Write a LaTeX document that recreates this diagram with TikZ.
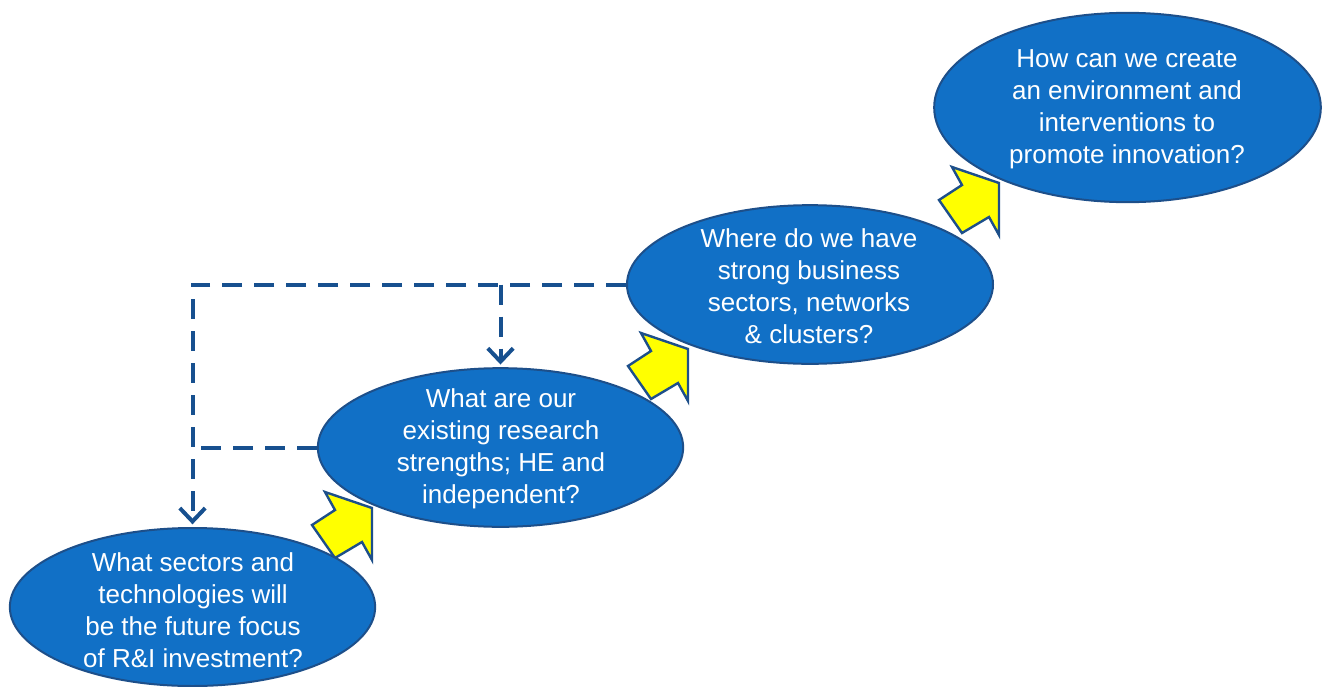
\documentclass[tikz,border=0pt]{standalone}
\usepackage{fontspec}
\setmainfont{Liberation Sans}
\usetikzlibrary{shapes.geometric,arrows.meta}
\definecolor{bubblefill}{HTML}{1170C6}
\definecolor{bubbleline}{HTML}{1D4F8A}
\definecolor{dashblue}{HTML}{17508F}
\definecolor{arrowyellow}{HTML}{FFFF00}
\tikzset{
  bubble/.style={ellipse, draw=bubbleline, line width=1.5pt, fill=bubblefill, inner sep=0pt},
  bubbletext/.style={text=white, align=center, inner sep=0pt, font=\fontsize{19.5pt}{24pt}\selectfont},
  yarrow/.style={draw=bubbleline, fill=arrowyellow, line width=1.8pt, line join=miter},
  dline/.style={draw=dashblue, line width=3pt, dash pattern=on 15pt off 9pt},
  dtip/.style={-{Straight Barb[length=10pt,width=19pt,line width=3pt]}, shorten >=2pt}
}
\begin{document}
\begin{tikzpicture}[x=0.75pt,y=-0.75pt]
\useasboundingbox (0,0) rectangle (1328,686);
% yellow block arrows (under the ellipses)
\foreach \dx/\dy [count=\i] in {0/0,316/-159,627/-325}{
  \draw[yarrow, shift={(\dx,\dy)}] (325,492) -- (372,508) -- (372,560) -- (362,542) -- (335,558) -- (312,525) -- (335,510) -- cycle;
}
% ellipses
\node[bubble, minimum width=274pt, minimum height=118.5pt] (e1) at (192.5,607) {};
\node[bubble, minimum width=274pt, minimum height=119pt] (e2) at (500.5,447.5) {};
\node[bubble, minimum width=274.5pt, minimum height=119pt] (e3) at (810,284.5) {};
\node[bubble, minimum width=290pt, minimum height=142pt] (e4) at (1127.5,107.5) {};
% texts
\node[bubbletext] (t1) at (193,610) {What sectors and\\technologies will\\be the future focus\\of R\&I investment?};
\node[bubbletext] (t2) at (501,449) {What are our\\existing research\\strengths; HE and\\independent?};
\node[bubbletext] (t3) at (809,286) {Where do we have\\strong business\\sectors, networks\\\& clusters?};
\node[bubbletext] (t4) at (1127,109) {How can we create\\an environment and\\interventions to\\promote innovation?};
% dashed connectors
\coordinate (c1) at (e3.west -| e1.north);
\coordinate (c2) at (e3.west -| e2.north);
\coordinate (c3) at (e2.west -| e1.north);
\draw[dline, dtip] (e3.west) -- (c1) -- (e1.north);
\draw[dline, dtip] (c2) -- (e2.north);
\draw[dline] (e2.west) -- (c3);
\end{tikzpicture}
\end{document}
